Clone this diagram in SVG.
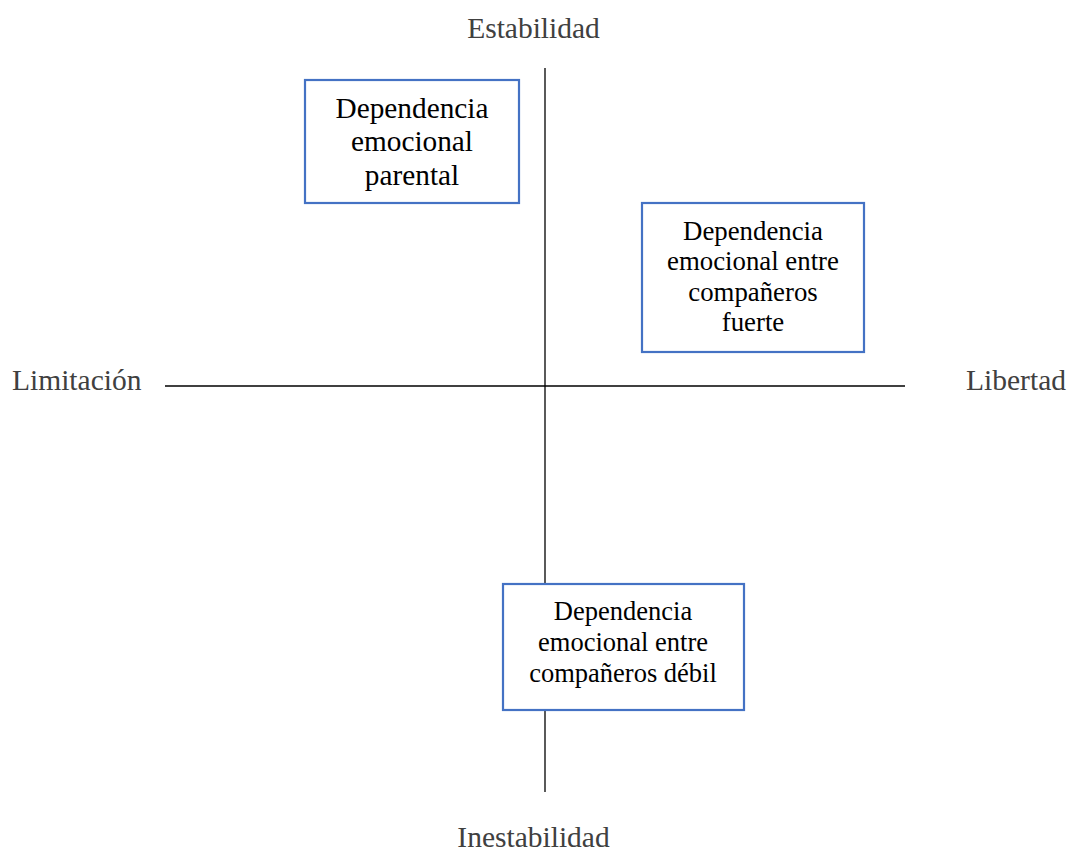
<svg xmlns="http://www.w3.org/2000/svg" width="1072" height="851" viewBox="0 0 1072 851">
<style>
.axis{stroke:#000;stroke-width:1.3;fill:none}
.box{fill:#fff;stroke:#4472C4;stroke-width:2.2}
.lbl{font-family:"Liberation Serif","Times New Roman",serif;font-size:29.5px;fill:#404040}
.t{font-family:"Liberation Serif","Times New Roman",serif;fill:#000;text-anchor:middle}
</style>
<rect width="1072" height="851" fill="#fff"/>
<g id="connectors">
<line class="axis" x1="545" y1="68" x2="545" y2="792"/>
<line class="axis" x1="165" y1="386" x2="905" y2="386"/>
</g>
<g id="labels">
<text class="lbl" x="533.5" y="38" text-anchor="middle">Estabilidad</text>
<text class="lbl" x="533.5" y="847" text-anchor="middle">Inestabilidad</text>
<text class="lbl" x="12" y="390">Limitación</text>
<text class="lbl" x="1066" y="390" text-anchor="end">Libertad</text>
</g>
<g id="node-parental">
<rect class="box" x="305" y="80" width="214" height="123"/>
<text class="t" font-size="29.3" x="412" y="118">Dependencia</text>
<text class="t" font-size="29.3" x="412" y="151">emocional</text>
<text class="t" font-size="29.3" x="412" y="185">parental</text>
</g>
<g id="node-fuerte">
<rect class="box" x="642" y="203" width="222" height="149"/>
<text class="t" font-size="26.8" x="753" y="240">Dependencia</text>
<text class="t" font-size="26.8" x="753" y="270">emocional entre</text>
<text class="t" font-size="26.8" x="753" y="301">compañeros</text>
<text class="t" font-size="26.8" x="753" y="331">fuerte</text>
</g>
<g id="node-debil">
<rect class="box" x="503" y="584" width="241" height="126"/>
<text class="t" font-size="26.5" x="623" y="620">Dependencia</text>
<text class="t" font-size="26.5" x="623" y="651">emocional entre</text>
<text class="t" font-size="26.5" x="623" y="682">compañeros débil</text>
</g>
</svg>
